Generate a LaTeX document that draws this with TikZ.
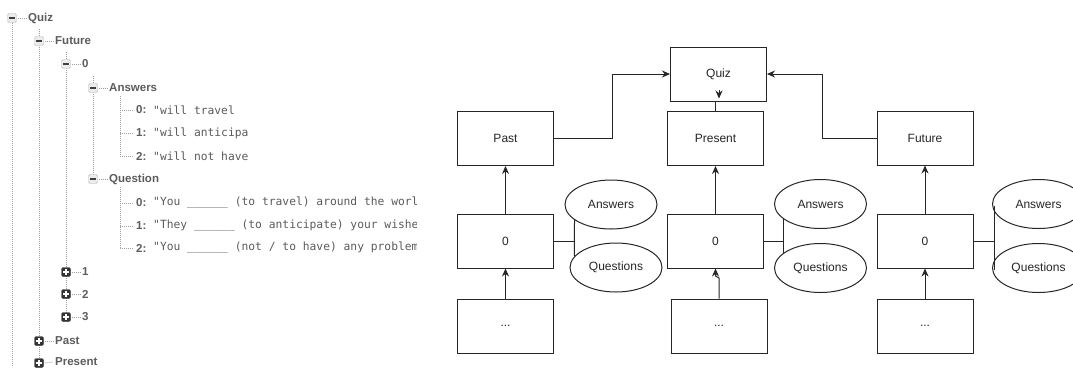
\documentclass[tikz,border=0pt]{standalone}
\usepackage{fontspec}
\usetikzlibrary{shapes.geometric,arrows.meta}
\newfontfamily\rfont{Liberation Sans}
\newfontfamily\mfont{DejaVu Sans Mono}
\definecolor{tgray}{HTML}{5C5C5C}
\definecolor{ink}{HTML}{262626}
\tikzset{
  box/.style={draw=ink, line width=1bp, minimum width=96bp, minimum height=54bp, inner sep=0pt, text=ink, font={\rfont\fontsize{12bp}{14bp}\selectfont}},
  ell/.style={ellipse, draw=ink, line width=1bp, minimum width=92bp, minimum height=49bp, inner sep=0pt, text=ink, font={\rfont\fontsize{12bp}{14bp}\selectfont}},
  conn/.style={draw=ink, line width=1bp},
  arr/.style={conn, -{Stealth[length=8bp,width=7bp]}},
  tlbl/.style={anchor=west, inner sep=0pt, text=tgray, font={\rfont\bfseries\fontsize{11.5bp}{13bp}\selectfont}},
  tval/.style={anchor=west, inner sep=0pt, text=tgray, font={\mfont\fontsize{11.3bp}{13bp}\selectfont}},
  tdot/.style={draw=gray!75, line width=0.8bp, dash pattern=on 1bp off 1bp},
  minusic/.style={draw=gray!55, fill=gray!15, rounded corners=1.5bp, minimum size=9bp, inner sep=0pt,
    path picture={\draw[line width=1.6bp, black!75] ([xshift=-2.6bp]path picture bounding box.center) -- ([xshift=2.6bp]path picture bounding box.center);}},
  plusic/.style={draw=black!80, fill=black!80, rounded corners=1.5bp, minimum size=9bp, inner sep=0pt,
    path picture={\draw[line width=1.4bp, white] ([xshift=-2.6bp]path picture bounding box.center) -- ([xshift=2.6bp]path picture bounding box.center) ([yshift=-2.6bp]path picture bounding box.center) -- ([yshift=2.6bp]path picture bounding box.center);}}
}
\begin{document}
\begin{tikzpicture}[x=1bp,y=-1bp]
\clip (0,0) rectangle (1073,367);
\fill[white] (0,0) rectangle (1073,367);

% ---------------- left tree ----------------
\coordinate (v0a) at (12,23);  \coordinate (v0b) at (12,367);
\coordinate (v1a) at (39,29);  \coordinate (v1b) at (39,367);
\coordinate (v2a) at (66,52);  \coordinate (v2b) at (66,317);
\coordinate (v3a) at (93,76);  \coordinate (v3b) at (93,179);
\coordinate (v4a) at (120,96); \coordinate (v4b) at (120,156);
\coordinate (v5a) at (120,187);\coordinate (v5b) at (120,248);
\draw[tdot] (v0a) -- (v0b);
\draw[tdot] (v1a) -- (v1b);
\draw[tdot] (v2a) -- (v2b);
\draw[tdot] (v3a) -- (v3b);
\draw[tdot] (v4a) -- (v4b);
\draw[tdot] (v5a) -- (v5b);

% expanded nodes
\node[minusic] (iquiz) at (12,18) {};
\node[tlbl] (tquiz) at (28,18) {Quiz};
\node[minusic] (ifut) at (39,41) {};
\node[tlbl] (tfut) at (55,41) {Future};
\node[minusic] (izero) at (66,64) {};
\node[tlbl] (tzero) at (82,64) {0};
\node[minusic] (ians) at (93,88) {};
\node[tlbl] (tans) at (109,88) {Answers};
\node[minusic] (ique) at (93,179) {};
\node[tlbl] (tque) at (109,179) {Question};
% collapsed nodes
\node[plusic] (ione) at (66,272) {};
\node[tlbl] (tone) at (82,272) {1};
\node[plusic] (itwo) at (66,294) {};
\node[tlbl] (ttwo) at (82,294) {2};
\node[plusic] (ithree) at (66,317) {};
\node[tlbl] (tthree) at (82,317) {3};
\node[plusic] (ipast) at (39,341) {};
\node[tlbl] (tpast) at (55,341) {Past};
\node[plusic] (ipres) at (39,363) {};
\node[tlbl] (tpres) at (55,362) {Present};
\foreach \n in {quiz,fut,zero,ans,que,one,two,three,past,pres}
  \draw[tdot, shorten <=1bp, shorten >=2bp] (i\n.east) -- (t\n.west);

% leaves
\foreach \y/\k in {110/a0,133/a1,156/a2,203/q0,226/q1,248/q2}
  \coordinate (l\k) at (120,\y);
\node[tlbl] (ka0) at (136,110) {0:};
\node[tlbl] (ka1) at (136,133) {1:};
\node[tlbl] (ka2) at (136,156) {2:};
\node[tlbl] (kq0) at (136,203) {0:};
\node[tlbl] (kq1) at (136,226) {1:};
\node[tlbl] (kq2) at (136,248) {2:};
\foreach \k in {a0,a1,a2,q0,q1,q2}
  \draw[tdot, shorten >=2bp] (l\k) -- (k\k.west);
\begin{scope}
  \clip (150,95) rectangle (247,165);
  \node[tval] (va0) at (153,110) {"will travel};
  \node[tval] (va1) at (153,133) {"will anticipate};
  \node[tval] (va2) at (153,156) {"will not have};
\end{scope}
\begin{scope}
  \clip (150,190) rectangle (416,258);
  \node[tval] (vq0) at (153,203) {"You \_\_\_\_\_\_ (to travel) around the world};
  \node[tval] (vq1) at (153,226) {"They \_\_\_\_\_\_ (to anticipate) your wishes};
  \node[tval] (vq2) at (153,248) {"You \_\_\_\_\_\_ (not / to have) any problems};
\end{scope}

% ---------------- right diagram ----------------
\node[box] (quiz) at (718.5,74) {Quiz};
\node[box] (past) at (505.5,138.5) {Past};
\node[box] (pres) at (715.5,138.5) {Present};
\node[box] (fut)  at (925,138) {Future};
\node[box] (z1) at (505.5,241) {0};
\node[box] (z2) at (715.5,241) {0};
\node[box] (z3) at (925,241) {0};
\node[box] (d1) at (505.5,326) {...};
\node[box] (d2) at (719,326) {...};
\node[box] (d3) at (925,326) {...};

\node[ell] (a1) at (611,204.5) {Answers};
\node[ell] (q1) at (616,267.5) {Questions};
\node[ell] (a2) at (820.5,204) {Answers};
\node[ell] (q2) at (820.5,268) {Questions};
\node[ell] (a3) at (1038.5,204) {Answers};
\node[ell] (q3) at (1038.5,268) {Questions};

% to Quiz
\coordinate (pk) at (612,74);
\draw[arr] (past.east) -| (pk) -- (quiz.west);
\coordinate (fk) at (822,74);
\draw[arr] (fut.west) -| (fk) -- (quiz.east);
\draw[conn] (pres.north) -- (pres.north |- quiz.south);
\coordinate (qa) at (719,90);
\coordinate (qb) at (719,98.5);
\draw[arr] (qa) -- (qb);

% 0 -> period
\draw[arr] (z1.north) -- (past.south);
\draw[arr] (z2.north) -- (pres.south);
\draw[arr] (z3.north) -- (fut.south);
% ... -> 0
\draw[arr] (d1.north) -- (z1.south);
\coordinate (dj) at (719,278);
\coordinate (dj2) at (715.5,276);
\draw[arr] (d2.north) -- (dj) -- (dj2) -- (z2.south);
\draw[arr] (d3.north) -- (z3.south);

% 0 -- Answers / Questions
\coordinate (j1) at (575,241);
\draw[conn] (z1.east) -- (j1);
\draw[conn] (a1.203) -- (q1.165);
\coordinate (j2) at (784,241);
\draw[conn] (z2.east) -- (j2);
\draw[conn] (a2.202) -- (q2.158);
\coordinate (j3) at (994,241);
\coordinate (j3t) at (994,206);
\coordinate (j3b) at (994,270);
\draw[conn] (z3.east) -- (j3);
\draw[conn] (j3t) -- (j3b);
\end{tikzpicture}
\end{document}
